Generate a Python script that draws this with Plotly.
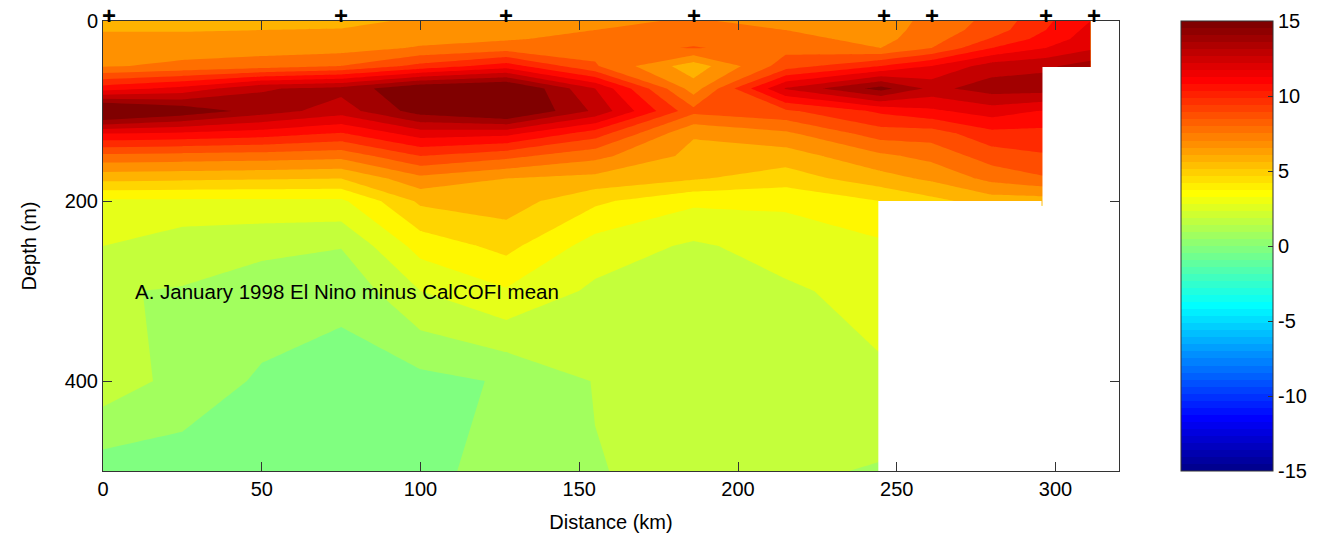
import math
import plotly.graph_objects as go

NaN = float("nan")

# ---- data ----
depth_m = [0, 10, 20, 30, 50, 75, 100, 125, 150, 175, 200, 250, 300, 400, 500]
grid_km = [0, 25, 50, 75, 100, 127, 155, 186, 215, 245, 261, 280, 297, 311]

t_000 = [6.0, 6.4, 6.9, 7.0, 7.4, 11.0, 16.5, 11.5, 8.2, 5.8, 3.3, 2.5, 1.55, 2.1, 0.0]
t_025 = [6.0, 6.4, 6.9, 7.1, 7.7, 11.8, 15.3, 11.3, 8.1, 5.7, 3.3, 1.9, 1.45, 1.15, 0.0]
t_050 = [6.1, 6.5, 6.9, 7.1, 8.0, 13.4, 14.0, 11.0, 8.0, 5.6, 3.3, 1.7, 1.1, 0.35, 0.1]
t_075 = [6.0, 6.6, 6.8, 7.1, 8.5, 13.8, 13.0, 10.4, 7.8, 5.5, 3.3, 1.55, 0.7, 0.2, 0.1]
t_100 = [6.8, 7.0, 7.2, 7.6, 9.8, 15.5, 15.0, 12.0, 9.5, 7.2, 5.7, 3.9, 2.5, 0.2, 0.2]
t_127 = [7.0, 7.2, 7.4, 8.0, 11.0, 16.0, 16.0, 11.8, 8.8, 6.5, 6.0, 4.8, 3.4, 0.6, 0.9]
t_155 = [7.3, 7.5, 7.8, 8.2, 8.6, 12.5, 13.3, 10.0, 7.8, 6.2, 4.7, 3.05, 2.3, 1.55, 1.45]
t_186 = [7.6, 8.0, 8.3, 8.55, 5.9, 7.0, 8.8, 6.6, 6.2, 5.6, 3.7, 2.35, 2.2, 2.0, 1.8]
t_215 = [7.2, 7.5, 7.8, 8.2, 9.0, 12.6, 9.3, 7.3, 6.0, 5.0, 3.7, 2.9, 2.35, 2.0, 1.7]
t_245 = [7.0, 7.1, 7.2, 7.5, 10.5, 14.9, 10.7, 9.0, 7.3, 6.1, 4.5, 3.3, 2.85, 2.35, 1.4]
t_261 = [7.8, 7.9, 8.1, 8.5, 11.5, 13.2, 11.3, 9.0, 7.8, 6.7, 5.2, NaN, NaN, NaN, NaN]
t_280 = [8.8, 9.0, 9.6, 10.5, 13.0, 14.0, 12.0, 10.2, 9.0, 7.8, 6.0, NaN, NaN, NaN, NaN]
t_297 = [10.3, 10.5, 10.9, 11.5, 13.3, 14.0, 11.4, 10.2, 9.4, 8.4, 6.0, NaN, NaN, NaN, NaN]
t_311 = [11.5, 11.8, 12.0, 12.3, 14.0, NaN, NaN, NaN, NaN, NaN, NaN, NaN, NaN, NaN, NaN]

columns = [t_000, t_025, t_050, t_075, t_100, t_127, t_155, t_186,
           t_215, t_245, t_261, t_280, t_297, t_311]

station_km = [2, 75, 127, 186, 246, 261, 297, 312]

# regions with no data (below the bottom), drawn white
mask_x0 = [244.2, 295.9]
mask_x1 = [295.6, 320.0]
mask_top = [200, 51]
mask_bottom = [500, 500]

cbar_ticks = [-15, -10, -5, 0, 5, 10, 15]
cbar_labels = ["-15", "-10", "-5", "0", "5", "10", "15"]
title_text = "A. January 1998 El Nino minus CalCOFI mean"

# ---- build ----
z = [[col[i] for col in columns] for i in range(len(depth_m))]

jet = [[0.0, "rgb(0,0,128)"], [0.125, "rgb(0,0,255)"], [0.375, "rgb(0,255,255)"],
       [0.625, "rgb(255,255,0)"], [0.875, "rgb(255,0,0)"], [1.0, "rgb(128,0,0)"]]


def jet64():
    n = 64
    m = math.ceil(n / 4)
    u = [k / m for k in range(1, m + 1)] + [1.0] * (m - 1) + [k / m for k in range(m, 0, -1)]
    g0 = math.ceil(m / 2) - (1 if n % 4 == 1 else 0)
    r = [0.0] * n
    g = [0.0] * n
    b = [0.0] * n
    for k, uu in enumerate(u, start=1):
        gi = g0 + k
        ri = gi + m
        bi = gi - m
        if 1 <= gi <= n:
            g[gi - 1] = uu
        if 1 <= ri <= n:
            r[ri - 1] = uu
        if 1 <= bi <= n:
            b[bi - 1] = uu
    scale = []
    for i in range(n):
        c = "rgb(%d,%d,%d)" % (round(r[i] * 255), round(g[i] * 255), round(b[i] * 255))
        scale.append([i / n, c])
        scale.append([(i + 1) / n, c])
    return scale


FONT = "Liberation Sans, Arial, sans-serif"
L, R, T, B, W, H = 103, 200, 21, 76, 1319, 547
PW = W - L - R

fig = go.Figure()

fig.add_trace(go.Contour(
    x=grid_km, y=depth_m, z=z,
    colorscale=jet, zmin=-15, zmax=15,
    autocontour=False,
    contours=dict(start=-14.5, end=14.5, size=1, coloring="fill", showlines=False),
    line=dict(width=0, smoothing=0),
    showscale=False, hoverinfo="skip",
))

for x0, x1, yt, yb in zip(mask_x0, mask_x1, mask_top, mask_bottom):
    fig.add_trace(go.Scatter(
        x=[x0, x1, x1, x0, x0], y=[yt, yt, yb, yb, yt],
        mode="lines", fill="toself", fillcolor="white",
        line=dict(width=0, color="white"), hoverinfo="skip", showlegend=False,
    ))

# station markers (+) just above the top axis
for sx in station_km:
    fig.add_annotation(x=sx, y=0, xref="x", yref="y", text="<b>+</b>", showarrow=False,
                       xanchor="center", yanchor="middle", yshift=6,
                       font=dict(family=FONT, size=24, color="black"))

# colorbar carrier
fig.add_trace(go.Scatter(
    x=[None, None], y=[None, None], mode="markers", showlegend=False, hoverinfo="skip",
    marker=dict(color=[cbar_ticks[0], cbar_ticks[-1]], cmin=cbar_ticks[0], cmax=cbar_ticks[-1],
                colorscale=jet64(), showscale=True,
                colorbar=dict(x=(1180.5 - L) / PW, xanchor="left", xpad=0,
                              y=0.5, yanchor="middle", ypad=0, len=1, lenmode="fraction",
                              thickness=92, thicknessmode="pixels",
                              outlinewidth=1, outlinecolor="#333333",
                              tickvals=cbar_ticks, ticktext=cbar_labels,
                              ticks="inside", ticklen=5, tickcolor="#333333",
                              tickfont=dict(family=FONT, size=20, color="black"))),
))

fig.add_annotation(x=9.5, y=301, xref="x", yref="y", text=title_text,
                   showarrow=False, xanchor="left", yanchor="middle",
                   font=dict(family=FONT, size=20.5, color="black"))

axis_common = dict(showline=True, linecolor="#333333", linewidth=1, mirror="ticks",
                   ticks="inside", ticklen=9, tickcolor="#333333", showgrid=False,
                   zeroline=False, tickfont=dict(family=FONT, size=20, color="black"))

fig.update_xaxes(range=[0, 320], tickvals=[0, 50, 100, 150, 200, 250, 300],
                 title=dict(text="Distance (km)", font=dict(family=FONT, size=20, color="black"),
                            standoff=15),
                 **axis_common)
fig.update_yaxes(range=[500, 0], tickvals=[0, 200, 400],
                 title=dict(text="Depth (m)", font=dict(family=FONT, size=20, color="black"),
                            standoff=22),
                 **axis_common)

fig.update_layout(width=W, height=H, margin=dict(l=L, r=R, t=T, b=B, autoexpand=False),
                  paper_bgcolor="white", plot_bgcolor="white", showlegend=False,
                  font=dict(family=FONT, size=20, color="black"))

fig.write_html("out.html")
